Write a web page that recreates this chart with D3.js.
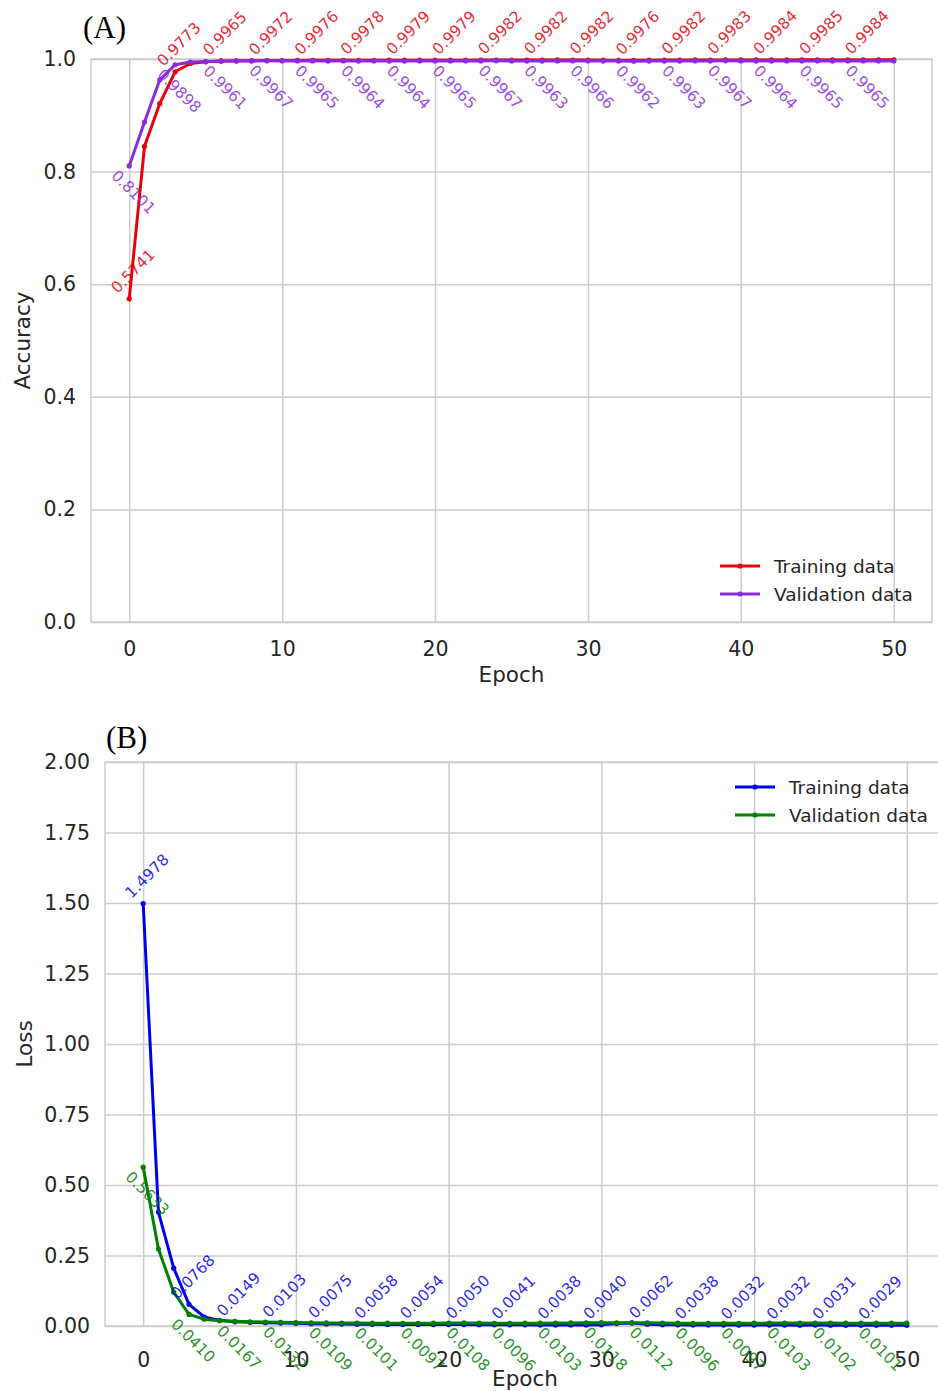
<!DOCTYPE html>
<html>
<head>
<meta charset="utf-8">
<script src="https://cdn.jsdelivr.net/npm/d3@7"></script>
<style>
  body { margin: 0; background: #fff; }
  svg { display: block; font-family: "DejaVu Sans", sans-serif; }
</style>
</head>
<body>
<svg id="chart" width="938" height="1391"></svg>
<script>
const epochs = d3.range(0, 51);

// panel A: accuracy
const trainAcc = [0.5741, 0.845, 0.921, 0.9773, 0.992, 0.995, 0.9965, 0.9968, 0.997, 0.9972,
  0.9973, 0.9975, 0.9976, 0.9977, 0.9977, 0.9978, 0.9978, 0.9979, 0.9979, 0.998,
  0.9979, 0.9979, 0.998, 0.9981, 0.9982, 0.9981, 0.9982, 0.9982, 0.9983, 0.9982,
  0.9982, 0.9979, 0.9975, 0.9976, 0.998, 0.9981, 0.9982, 0.9983, 0.9982, 0.9983,
  0.9984, 0.9983, 0.9984, 0.9984, 0.9985, 0.9985, 0.9984, 0.9985, 0.9984, 0.9985, 0.9985];
const valAcc = [0.8101, 0.888, 0.963, 0.9898, 0.9945, 0.9955, 0.9961, 0.9964, 0.9966, 0.9967,
  0.9965, 0.9966, 0.9965, 0.9964, 0.9965, 0.9964, 0.9965, 0.9964, 0.9964, 0.9965,
  0.9966, 0.9965, 0.9966, 0.9966, 0.9967, 0.9965, 0.9964, 0.9963, 0.9965, 0.9966,
  0.9966, 0.9964, 0.9963, 0.9962, 0.9964, 0.9963, 0.9963, 0.9965, 0.9966, 0.9967,
  0.9965, 0.9964, 0.9964, 0.9965, 0.9966, 0.9965, 0.9964, 0.9965, 0.9965, 0.9966, 0.9965];

// panel B: loss
const trainLoss = [1.4978, 0.404, 0.205, 0.0768, 0.032, 0.02, 0.0149, 0.013, 0.0115, 0.0103,
  0.0094, 0.0084, 0.0075, 0.0069, 0.0063, 0.0058, 0.0057, 0.0055, 0.0054, 0.0052,
  0.0051, 0.005, 0.0047, 0.0044, 0.0041, 0.004, 0.0039, 0.0038, 0.0039, 0.0038,
  0.004, 0.0085, 0.011, 0.0062, 0.0045, 0.004, 0.0038, 0.0036, 0.0034, 0.0032,
  0.0033, 0.0032, 0.0032, 0.0031, 0.0032, 0.0031, 0.003, 0.003, 0.0029, 0.003, 0.0029];
const valLoss = [0.5633, 0.273, 0.12, 0.041, 0.024, 0.019, 0.0167, 0.015, 0.014, 0.0132,
  0.0122, 0.0115, 0.0109, 0.0105, 0.0103, 0.0101, 0.0099, 0.0098, 0.0097, 0.0101,
  0.0105, 0.0108, 0.0102, 0.0098, 0.0096, 0.0099, 0.0101, 0.0103, 0.0108, 0.0114,
  0.0118, 0.0116, 0.0114, 0.0112, 0.0105, 0.01, 0.0096, 0.0096, 0.0097, 0.0097,
  0.01, 0.0102, 0.0103, 0.0102, 0.0102, 0.0102, 0.0101, 0.0101, 0.0101, 0.01, 0.0101];

const xTicks = [0, 10, 20, 30, 40, 50];
const accTicks = [0, 0.2, 0.4, 0.6, 0.8, 1.0];
const lossTicks = [0, 0.25, 0.5, 0.75, 1.0, 1.25, 1.5, 1.75, 2.0];
const seriesNames = ['Training data', 'Validation data'];

const svg = d3.select('#chart');
const gridColor = '#cccccc';
const textColor = '#262626';

const drawPanel = p => {
    const x = d3.scaleLinear().domain([-2.5, 52.5]).range([p.left, p.right]);
    const y = d3.scaleLinear().domain(p.yDomain).range([p.bottom, p.top]);
    const g = svg.append('g');

    // grid
    g.append('g')
        .attr('transform', `translate(0, ${p.bottom})`)
        .call(d3.axisBottom(x).tickValues(xTicks).tickSize(-(p.bottom - p.top)).tickFormat(d3.format('d')).tickPadding(p.xPad))
        .call(a => a.select('.domain').remove())
        .call(a => a.selectAll('line').attr('stroke', gridColor).attr('stroke-width', 1.5))
        .call(a => a.selectAll('text').attr('fill', textColor).style('font-size', '20.5px').attr('font-family', 'DejaVu Sans'));

    g.append('g')
        .attr('transform', `translate(${p.left}, 0)`)
        .call(d3.axisLeft(y).tickValues(p.yTicks).tickSize(-(p.right - p.left)).tickFormat(d3.format(p.yFmt)).tickPadding(p.yPad))
        .call(a => a.select('.domain').remove())
        .call(a => a.selectAll('line').attr('stroke', gridColor).attr('stroke-width', 1.5))
        .call(a => a.selectAll('text').attr('fill', textColor).style('font-size', '20.5px').attr('font-family', 'DejaVu Sans'));

    g.append('rect')
        .attr('x', p.left).attr('y', p.top)
        .attr('width', p.right - p.left).attr('height', p.bottom - p.top)
        .attr('fill', 'none').attr('stroke', gridColor).attr('stroke-width', 1.5);

    const line = d3.line().x((d, i) => x(epochs[i])).y(d => y(d));

    p.series.forEach(s => {
        g.append('path')
            .datum(s.values)
            .attr('fill', 'none')
            .attr('stroke', s.color)
            .attr('stroke-width', 3)
            .attr('stroke-linejoin', 'round')
            .attr('d', line);
        g.selectAll(null)
            .data(s.values)
            .enter()
            .append('circle')
            .attr('cx', (d, i) => x(epochs[i]))
            .attr('cy', d => y(d))
            .attr('r', 2.6)
            .attr('fill', s.color);
    });

    // value labels every 3 epochs
    const fs = 15.5;
    p.series.forEach(s => {
        s.values.forEach((v, i) => {
            if (i % 3 !== 0 || i > 48) return;
            const t = g.append('text')
                .attr('text-anchor', 'middle')
                .attr('dominant-baseline', 'central')
                .attr('fill', s.color)
                .attr('fill-opacity', 0.85)
                .style('font-size', fs + 'px')
                .text(v.toFixed(4));
            const L = t.node().getComputedTextLength();
            const half = (L + fs * 0.95) * Math.SQRT1_2 / 2;
            const px = x(epochs[i]) + 4;
            const py = y(v);
            if (s.above) {
                t.attr('transform', `translate(${px}, ${py - 3 - half}) rotate(-45)`);
            } else {
                t.attr('transform', `translate(${px}, ${py + 2 + half}) rotate(45)`);
            }
        });
    });

    // legend
    p.series.forEach((s, k) => {
        const ly = p.legY + k * 28;
        g.append('line')
            .attr('x1', p.legX).attr('x2', p.legX + 40)
            .attr('y1', ly).attr('y2', ly)
            .attr('stroke', s.color).attr('stroke-width', 3);
        g.append('circle').attr('cx', p.legX + 20).attr('cy', ly).attr('r', 2.6).attr('fill', s.color);
        g.append('text')
            .attr('x', p.legX + 54).attr('y', ly + 7)
            .attr('fill', textColor)
            .style('font-size', '18.5px')
            .text(seriesNames[k]);
    });

    // axis labels and panel tag
    g.append('text')
        .attr('x', (p.left + p.right) / 2 + p.xLabelShift).attr('y', p.xLabelY)
        .attr('text-anchor', 'middle').attr('fill', textColor)
        .style('font-size', '21.5px').text('Epoch');
    g.append('text')
        .attr('transform', `translate(${p.yLabelX}, ${(p.top + p.bottom) / 2}) rotate(-90)`)
        .attr('text-anchor', 'middle').attr('fill', textColor)
        .style('font-size', '21.5px').text(p.yLabel);
    g.append('text')
        .attr('x', p.tagX).attr('y', p.tagY)
        .attr('font-family', 'Liberation Serif').attr('fill', '#000')
        .style('font-size', '31px').text(p.tag);
};

drawPanel({
    left: 91, right: 932, top: 59, bottom: 622,
    yDomain: [0, 1], yTicks: accTicks, yFmt: '.1f',
    xPad: 19, yPad: 15,
    series: [
        { values: trainAcc, color: '#e8000b', above: true },
        { values: valAcc, color: '#8a2be2', above: false }
    ],
    legX: 720, legY: 566,
    xLabelY: 682, xLabelShift: 0, yLabel: 'Accuracy', yLabelX: 30,
    tag: '(A)', tagX: 83, tagY: 38
});

drawPanel({
    left: 105, right: 945, top: 762, bottom: 1326,
    yDomain: [0, 2], yTicks: lossTicks, yFmt: '.2f',
    xPad: 26, yPad: 15,
    series: [
        { values: trainLoss, color: '#0000ee', above: true },
        { values: valLoss, color: '#008000', above: false }
    ],
    legX: 735, legY: 787,
    xLabelY: 1386, xLabelShift: 0, yLabel: 'Loss', yLabelX: 32,
    tag: '(B)', tagX: 106, tagY: 748
});
</script>
</body>
</html>
